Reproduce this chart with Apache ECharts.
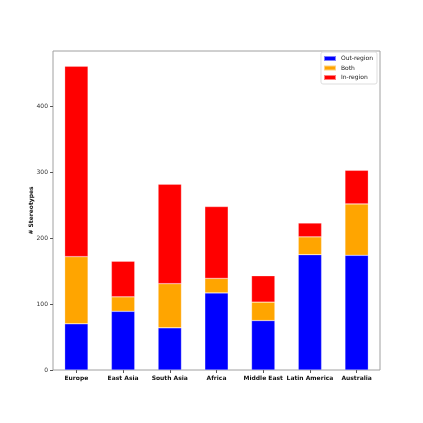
<!DOCTYPE html>
<html>
<head>
<meta charset="utf-8">
<script src="https://cdn.jsdelivr.net/npm/echarts@6/dist/echarts.min.js"></script>
<style>
	html, body { margin: 0; padding: 0; background: #fff; }
	#chart { width: 423px; height: 423px; }
</style>
</head>
<body>
<div id="chart"></div>
<script>
// regions along the x axis
const regions = ['Europe', 'East Asia', 'South Asia', 'Africa', 'Middle East', 'Latin America', 'Australia']
// stacked values, bottom to top
const outRegion = [70, 89, 64, 117, 75, 175, 174]
const both = [102, 22, 67, 22, 28, 27, 78]
const inRegion = [289, 54, 151, 109, 40, 21, 51]
const yTicks = [0, 100, 200, 300, 400]

const font = 'DejaVu Sans'
const myEchart = echarts.init(document.getElementById('chart'))

function barSeries(name, color, data) {
	return {
		name: name,
		type: 'bar',
		stack: 'total',
		barWidth: '50%',
		color: color,
		itemStyle: { borderColor: 'rgba(255,255,255,0.5)', borderWidth: 0.5 },
		data: data
	}
}

const option = {
	animation: false,
	grid: {
		left: 53,
		right: 43,
		top: 51,
		bottom: 53,
		show: true,
		borderColor: '#a0a0a0',
		borderWidth: 1
	},
	legend: {
		orient: 'vertical',
		right: 46,
		top: 52,
		itemWidth: 12,
		itemHeight: 5,
		itemGap: 2.5,
		padding: [3, 4, 3, 2],
		backgroundColor: '#fff',
		borderColor: '#ddd',
		borderWidth: 1,
		borderRadius: 2,
		icon: 'rect',
		textStyle: { fontFamily: font, fontSize: 6, color: '#222' },
		data: ['Out-region', 'Both', 'In-region']
	},
	xAxis: {
		type: 'category',
		data: regions,
		axisLine: { show: false },
		axisTick: { show: true, alignWithLabel: true, length: 3, lineStyle: { color: '#555' } },
		axisLabel: { fontFamily: font, fontSize: 6, fontWeight: 'bold', color: '#111', margin: 5, interval: 0 }
	},
	yAxis: {
		type: 'value',
		min: 0,
		max: 484,
		name: '# Stereotypes',
		nameLocation: 'middle',
		nameGap: 19,
		nameMoveOverlap: false,
		nameTextStyle: { fontFamily: font, fontSize: 6, fontWeight: 'bold', color: '#111' },
		splitLine: { show: false },
		axisLine: { show: false },
		axisTick: { show: true, length: 3, customValues: yTicks, lineStyle: { color: '#555' } },
		axisLabel: { fontFamily: font, fontSize: 6, color: '#333', margin: 5, customValues: yTicks }
	},
	series: [
		barSeries('Out-region', '#0000ff', outRegion),
		barSeries('Both', '#ffa500', both),
		barSeries('In-region', '#ff0000', inRegion)
	]
}
myEchart.setOption(option)
</script>
</body>
</html>
